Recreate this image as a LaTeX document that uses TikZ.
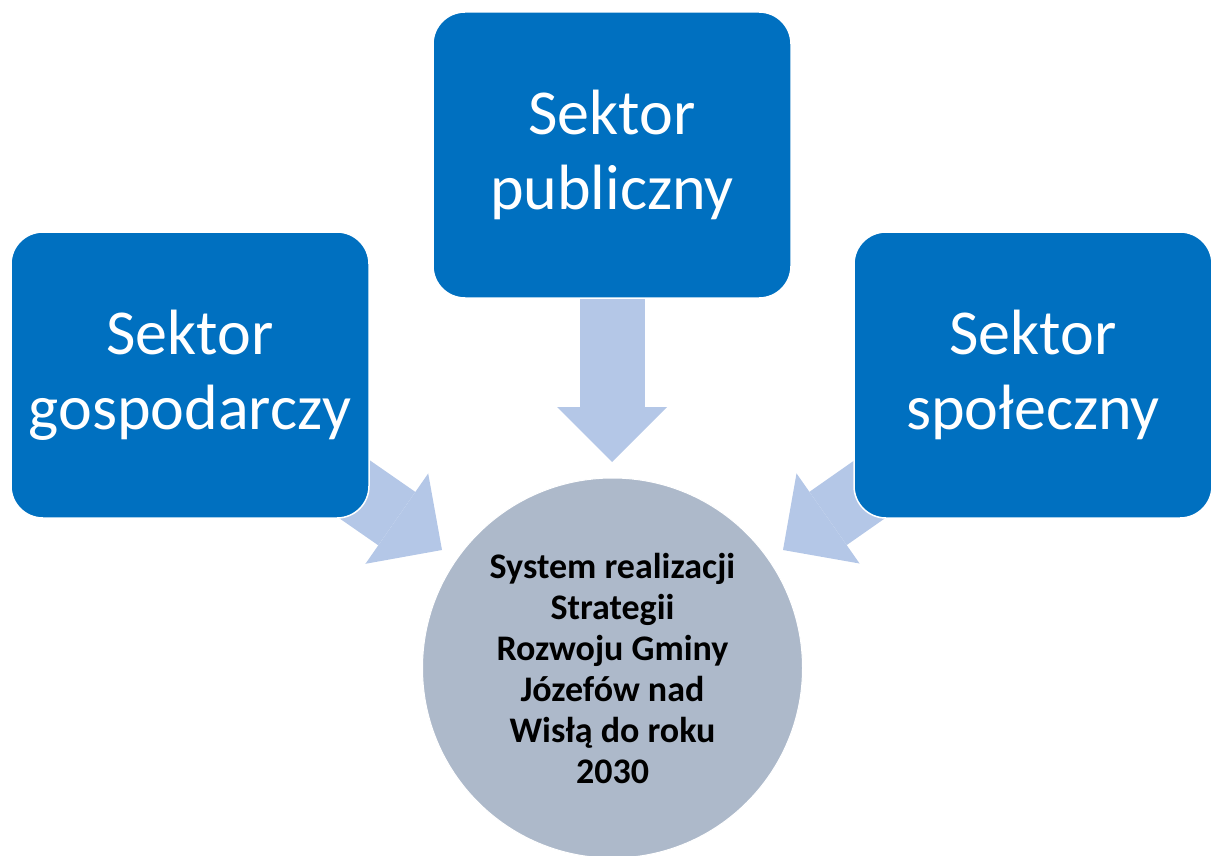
\documentclass[tikz,border=0pt]{standalone}
\usepackage{fontspec}
\setmainfont{Carlito}
\usetikzlibrary{arrows.meta,backgrounds}
\definecolor{sektorblue}{HTML}{0070C0}
\definecolor{arrowblue}{HTML}{B4C7E7}
\definecolor{systemgrey}{HTML}{ADB9CA}
\begin{document}
\begin{tikzpicture}
    [x=1pt,y=-1pt,
     sektor/.style={shape=rectangle,rounded corners=32pt,fill=sektorblue,draw=white,line width=1.5pt,
       minimum width=358pt,minimum height=286pt,align=center,text=white,
       font=\fontsize{64}{75}\selectfont},
     system/.style={shape=circle,fill=systemgrey,draw=white,line width=1pt,minimum size=380pt,
       align=center,font=\fontsize{36}{41}\selectfont\bfseries},
     flow/.style={line width=65pt,arrowblue,-{Triangle[length=55pt,width=110pt,line width=0pt]}}]
    \useasboundingbox (0,0) rectangle (1211,856);
    \node [sektor] (publ) at (612,155) {Sektor\\publiczny};
    \node [sektor] (gosp) at (190,375) {Sektor\\gospodarczy};
    \node [sektor] (spol) at (1033,375) {Sektor\\społeczny};
    \node [system] (sys) at (612.5,668) {System realizacji\\Strategii\\Rozwoju Gminy\\Józefów nad\\Wisłą do roku\\2030};
    \coordinate (publtip) at (612,462);
    \coordinate (gosptip) at (442,550);
    \coordinate (spoltip) at (783,550);
    \begin{pgfonlayer}{background}
      \draw [flow] (publ.center) -- (publtip);
      \draw [flow] (gosp.center) -- (gosptip);
      \draw [flow] (spol.center) -- (spoltip);
    \end{pgfonlayer}
  \end{tikzpicture}
\end{document}
